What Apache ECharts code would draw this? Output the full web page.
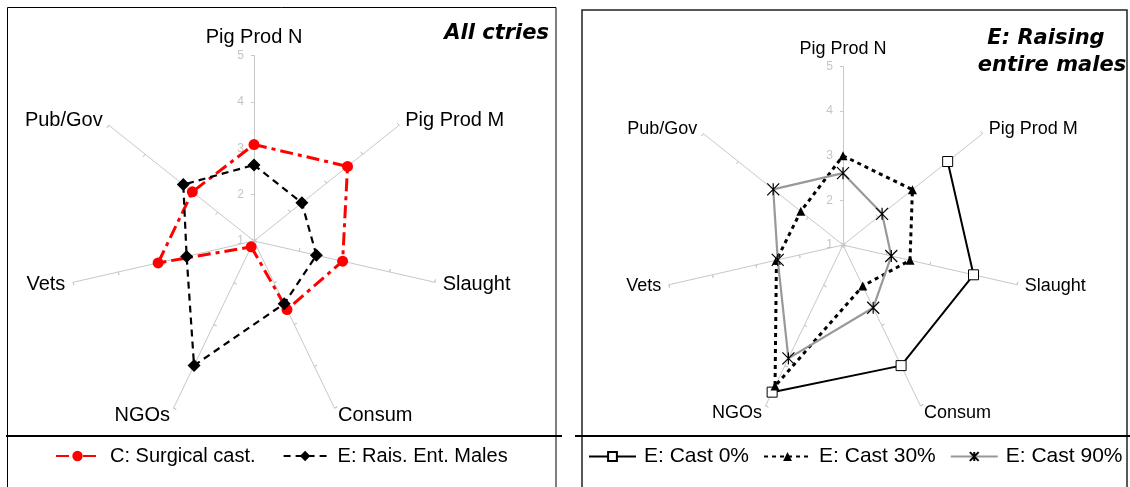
<!DOCTYPE html>
<html>
<head>
<meta charset="utf-8">
<script src="https://cdn.jsdelivr.net/npm/echarts@6/dist/echarts.min.js"></script>
<style>
html,body{margin:0;padding:0;background:#fff;}
#c{width:1130px;height:487px;}
</style>
</head>
<body>
<div id="c"></div>
<script>
// ---- data ----
const categories = ['Pig Prod N', 'Pig Prod M', 'Slaught', 'Consum', 'NGOs', 'Vets', 'Pub/Gov'];
const scaleMin = 1;
const scaleMax = 5;
const tickSteps = 4; // ticks 1,2,3,4,5

const leftTitle = 'All ctries';
const rightTitle = ['E: Raising', 'entire males'];

const leftNames = ['C: Surgical cast.', 'E: Rais. Ent. Males'];
const surgicalCast = [3.08, 3.58, 2.96, 2.64, 1.14, 3.12, 2.70];
const raisEntMales = [2.64, 2.32, 2.38, 2.50, 3.98, 2.49, 2.95];

const rightNames = ['E: Cast 0%', 'E: Cast 30%', 'E: Cast 90%'];
const cast0 = [null, 4.00, 4.00, 4.00, 4.66, null, null];
const cast30 = [3.00, 2.99, 2.54, 2.02, 4.51, 2.53, 2.21];
const cast90 = [2.61, 2.12, 2.11, 2.56, 3.82, 2.50, 3.00];

// ---- helpers ----
const FONT = 'Liberation Sans';
function toPolar(vals, close) {
  const pts = [];
  vals.forEach(function (v, i) { if (v != null) pts.push([v, i]); });
  if (close && vals[0] != null) pts.push({ value: [vals[0], categories.length], symbol: 'none' });
  return pts;
}
// radar places indicators counter-clockwise; reverse after the first to get clockwise order
const ccwOrder = [0].concat(categories.map(function (c, i) { return i; }).slice(1).reverse());
function indicators(labelMargin, labelSize, withLabel) {
  return ccwOrder.map(function (i, k) {
    const ind = { name: categories[i], min: scaleMin, max: scaleMax };
    ind.axisLabel = (k === 0 && withLabel)
      ? { show: true, color: '#c4c4c4', fontSize: labelSize, fontFamily: FONT, margin: labelMargin }
      : { show: false };
    return ind;
  });
}
function radarCfg(center, radius, nameSize, labelMargin) {
  return {
    center: center, radius: radius, startAngle: 90, shape: 'polygon', splitNumber: tickSteps,
    indicator: indicators(labelMargin, 12, true),
    axisName: { color: '#000', fontSize: nameSize, fontFamily: FONT },
    nameGap: 8,
    splitLine: { show: false }, splitArea: { show: false },
    axisLine: { show: true, lineStyle: { color: '#c8c8c8', width: 1 } },
    axisTick: { show: true, length: 3, lineStyle: { color: '#c8c8c8', width: 1 } },
    axisLabel: { show: false }
  };
}
// second set of ticks on the other side of each spoke (cross ticks)
function radarTicksCfg(center, radius) {
  return {
    center: center, radius: radius, startAngle: 90, shape: 'polygon', splitNumber: tickSteps,
    indicator: indicators(0, 12, false),
    axisName: { show: false },
    splitLine: { show: false }, splitArea: { show: false },
    axisLine: { show: false },
    axisTick: { show: true, inside: true, length: 3, lineStyle: { color: '#c8c8c8', width: 1 } },
    axisLabel: { show: false }
  };
}
const asterisk = 'path://M0,0L10,10M10,0L0,10M5,0L5,10';

const chart = echarts.init(document.getElementById('c'), null, { renderer: 'canvas' });
const option = {
  animation: false,
  backgroundColor: '#fff',
  radar: [
    radarCfg([254, 241], 185.5, 20, 10),
    radarCfg([843, 245], 178.5, 18, 10),
    radarTicksCfg([254, 241], 185.5),
    radarTicksCfg([843, 245], 178.5)
  ],
  polar: [
    { center: [254, 241], radius: 185.5 },
    { center: [843, 245], radius: 178.5 }
  ],
  angleAxis: [
    { polarIndex: 0, type: 'value', min: 0, max: categories.length, startAngle: 90, clockwise: true, show: false },
    { polarIndex: 1, type: 'value', min: 0, max: categories.length, startAngle: 90, clockwise: true, show: false }
  ],
  radiusAxis: [
    { polarIndex: 0, type: 'value', min: scaleMin, max: scaleMax, show: false },
    { polarIndex: 1, type: 'value', min: scaleMin, max: scaleMax, show: false }
  ],
  legend: [
    {
      data: leftNames, left: 55, top: 446, padding: 0, itemWidth: 43, itemHeight: 13, itemGap: 27,
      selectedMode: false,
      textStyle: { color: '#000', fontSize: 20, fontFamily: FONT, padding: [0, 0, 0, 6] }
    },
    {
      data: rightNames, left: 588, top: 446, padding: 0, itemWidth: 47, itemHeight: 11, itemGap: 14,
      selectedMode: false,
      textStyle: { color: '#000', fontSize: 21, fontFamily: FONT, padding: [0, 0, 0, 3] }
    }
  ],
  series: [
    {
      name: leftNames[0], type: 'line', coordinateSystem: 'polar', polarIndex: 0,
      data: toPolar(surgicalCast, true),
      symbol: 'circle', symbolSize: 11,
      itemStyle: { color: '#ff0000' },
      lineStyle: { color: '#ff0000', width: 3, type: [13, 5, 4, 5] },
      z: 3
    },
    {
      name: leftNames[1], type: 'line', coordinateSystem: 'polar', polarIndex: 0,
      data: toPolar(raisEntMales, true),
      symbol: 'diamond', symbolSize: 13,
      itemStyle: { color: '#000' },
      lineStyle: { color: '#000', width: 2.2, type: [7, 5] },
      z: 4
    },
    {
      name: rightNames[0], type: 'line', coordinateSystem: 'polar', polarIndex: 1,
      data: toPolar(cast0, false),
      symbol: 'rect', symbolSize: 10,
      itemStyle: { color: '#fff', borderColor: '#000', borderWidth: 1 },
      lineStyle: { color: '#000', width: 2 },
      z: 3
    },
    {
      name: rightNames[1], type: 'line', coordinateSystem: 'polar', polarIndex: 1,
      data: toPolar(cast30, true),
      symbol: 'triangle', symbolSize: 9,
      itemStyle: { color: '#000' },
      lineStyle: { color: '#000', width: 3, type: [4, 4] },
      z: 4
    },
    {
      name: rightNames[2], type: 'line', coordinateSystem: 'polar', polarIndex: 1,
      data: toPolar(cast90, true),
      symbol: asterisk, symbolSize: 12,
      itemStyle: { color: '#000', borderColor: '#000', borderWidth: 1.2 },
      lineStyle: { color: '#999999', width: 2.2 },
      z: 5
    }
  ],
  graphic: [
    { type: 'rect', silent: true, shape: { x: 7.5, y: 7.5, width: 548.5, height: 500 }, style: { fill: 'none', stroke: '#000', lineWidth: 1 } },
    { type: 'rect', silent: true, shape: { x: 582, y: 10, width: 545, height: 500 }, style: { fill: 'none', stroke: '#222', lineWidth: 1.5 } },
    { type: 'line', silent: true, shape: { x1: 6, y1: 436, x2: 562, y2: 436 }, style: { stroke: '#000', lineWidth: 2 } },
    { type: 'line', silent: true, shape: { x1: 575, y1: 436, x2: 1130, y2: 436 }, style: { stroke: '#000', lineWidth: 2 } },
    { type: 'text', silent: true, x: 549, y: 34,
      style: { text: leftTitle, fill: '#000', font: 'italic bold 21px "DejaVu Sans"', align: 'right', verticalAlign: 'middle', textAlign: 'right', textVerticalAlign: 'middle' } },
    { type: 'text', silent: true, x: 1046, y: 39,
      style: { text: rightTitle[0], fill: '#000', font: 'italic bold 21px "DejaVu Sans"', align: 'center', verticalAlign: 'middle', textAlign: 'center', textVerticalAlign: 'middle' } },
    { type: 'text', silent: true, x: 1052, y: 66,
      style: { text: rightTitle[1], fill: '#000', font: 'italic bold 21px "DejaVu Sans"', align: 'center', verticalAlign: 'middle', textAlign: 'center', textVerticalAlign: 'middle' } }
  ]
};
chart.setOption(option);
</script>
</body>
</html>
